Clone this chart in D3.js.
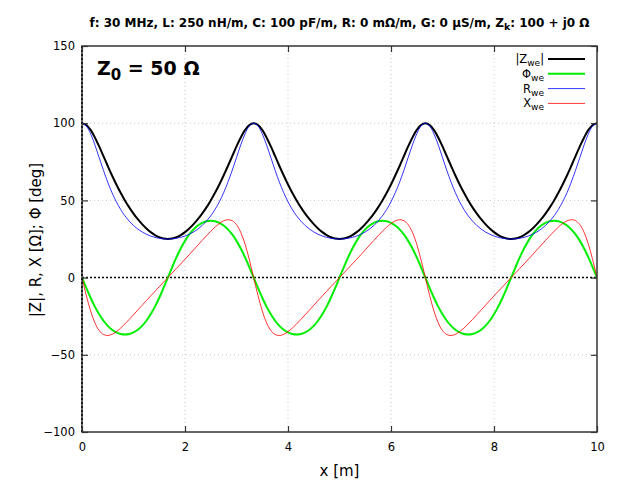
<!DOCTYPE html>
<html>
<head>
<meta charset="utf-8">
<script src="https://cdn.jsdelivr.net/npm/d3@7"></script>
<style>
  body { margin: 0; background: #fff; }
  text { font-family: "DejaVu Sans", sans-serif; fill: #000; }
</style>
</head>
<body>
<svg id="chart" width="640" height="480"></svg>
<script>
// sample positions along the line [m]
const xPos = [
  0, 0.083, 0.167, 0.25, 0.333, 0.417, 0.5, 0.583, 0.667, 0.75, 0.833, 0.917,
  1, 1.083, 1.167, 1.25, 1.333, 1.417, 1.5, 1.583, 1.667, 1.75, 1.833, 1.917,
  2, 2.083, 2.167, 2.25, 2.333, 2.417, 2.5, 2.583, 2.667, 2.75, 2.833, 2.917,
  3, 3.083, 3.167, 3.25, 3.333, 3.417, 3.5, 3.583, 3.667, 3.75, 3.833, 3.917,
  4, 4.083, 4.167, 4.25, 4.333, 4.417, 4.5, 4.583, 4.667, 4.75, 4.833, 4.917,
  5, 5.083, 5.167, 5.25, 5.333, 5.417, 5.5, 5.583, 5.667, 5.75, 5.833, 5.917,
  6, 6.083, 6.167, 6.25, 6.333, 6.417, 6.5, 6.583, 6.667, 6.75, 6.833, 6.917,
  7, 7.083, 7.167, 7.25, 7.333, 7.417, 7.5, 7.583, 7.667, 7.75, 7.833, 7.917,
  8, 8.083, 8.167, 8.25, 8.333, 8.417, 8.5, 8.583, 8.667, 8.75, 8.833, 8.917,
  9, 9.083, 9.167, 9.25, 9.333, 9.417, 9.5, 9.583, 9.667, 9.75, 9.833, 9.917,
  10
]

// |Z_we| [ohm]
const zMag = [
  100, 98.86, 95.63, 90.79, 84.95, 78.64, 72.28, 66.12, 60.32, 54.94, 50, 45.51, 41.45, 37.81, 34.59, 31.79, 29.43, 27.54, 26.14, 25.29,
  25, 25.29, 26.14, 27.54, 29.43, 31.79, 34.59, 37.81, 41.45, 45.51, 50, 54.94, 60.32, 66.12, 72.28, 78.64, 84.95, 90.79, 95.63, 98.86,
  100, 98.86, 95.63, 90.79, 84.95, 78.64, 72.28, 66.12, 60.32, 54.94, 50, 45.51, 41.45, 37.81, 34.59, 31.79, 29.43, 27.54, 26.14, 25.29,
  25, 25.29, 26.14, 27.54, 29.43, 31.79, 34.59, 37.81, 41.45, 45.51, 50, 54.94, 60.32, 66.12, 72.28, 78.64, 84.95, 90.79, 95.63, 98.86,
  100, 98.86, 95.63, 90.79, 84.95, 78.64, 72.28, 66.12, 60.32, 54.94, 50, 45.51, 41.45, 37.81, 34.59, 31.79, 29.43, 27.54, 26.14, 25.29,
  25, 25.29, 26.14, 27.54, 29.43, 31.79, 34.59, 37.81, 41.45, 45.51, 50, 54.94, 60.32, 66.12, 72.28, 78.64, 84.95, 90.79, 95.63, 98.86,
  100
]

// phase [deg]
const phase = [
  0, -6.69, -13.05, -18.8, -23.79, -27.94, -31.25, -33.75, -35.5, -36.53, -36.87, -36.53, -35.5, -33.75, -31.25, -27.94, -23.79, -18.8, -13.05, -6.69,
  0, 6.69, 13.05, 18.8, 23.79, 27.94, 31.25, 33.75, 35.5, 36.53, 36.87, 36.53, 35.5, 33.75, 31.25, 27.94, 23.79, 18.8, 13.05, 6.69,
  0, -6.69, -13.05, -18.8, -23.79, -27.94, -31.25, -33.75, -35.5, -36.53, -36.87, -36.53, -35.5, -33.75, -31.25, -27.94, -23.79, -18.8, -13.05, -6.69,
  0, 6.69, 13.05, 18.8, 23.79, 27.94, 31.25, 33.75, 35.5, 36.53, 36.87, 36.53, 35.5, 33.75, 31.25, 27.94, 23.79, 18.8, 13.05, 6.69,
  0, -6.69, -13.05, -18.8, -23.79, -27.94, -31.25, -33.75, -35.5, -36.53, -36.87, -36.53, -35.5, -33.75, -31.25, -27.94, -23.79, -18.8, -13.05, -6.69,
  0, 6.69, 13.05, 18.8, 23.79, 27.94, 31.25, 33.75, 35.5, 36.53, 36.87, 36.53, 35.5, 33.75, 31.25, 27.94, 23.79, 18.8, 13.05, 6.69,
  0
]

// R_we [ohm]
const resist = [
  100, 98.19, 93.16, 85.95, 77.73, 69.48, 61.79, 54.97, 49.1, 44.14, 40, 36.57, 33.74, 31.44, 29.57, 28.08, 26.93, 26.07, 25.47, 25.12,
  25, 25.12, 25.47, 26.07, 26.93, 28.08, 29.57, 31.44, 33.74, 36.57, 40, 44.14, 49.1, 54.97, 61.79, 69.48, 77.73, 85.95, 93.16, 98.19,
  100, 98.19, 93.16, 85.95, 77.73, 69.48, 61.79, 54.97, 49.1, 44.14, 40, 36.57, 33.74, 31.44, 29.57, 28.08, 26.93, 26.07, 25.47, 25.12,
  25, 25.12, 25.47, 26.07, 26.93, 28.08, 29.57, 31.44, 33.74, 36.57, 40, 44.14, 49.1, 54.97, 61.79, 69.48, 77.73, 85.95, 93.16, 98.19,
  100, 98.19, 93.16, 85.95, 77.73, 69.48, 61.79, 54.97, 49.1, 44.14, 40, 36.57, 33.74, 31.44, 29.57, 28.08, 26.93, 26.07, 25.47, 25.12,
  25, 25.12, 25.47, 26.07, 26.93, 28.08, 29.57, 31.44, 33.74, 36.57, 40, 44.14, 49.1, 54.97, 61.79, 69.48, 77.73, 85.95, 93.16, 98.19,
  100
]

// X_we [ohm]
const react = [
  0, -11.52, -21.59, -29.26, -34.27, -36.85, -37.49, -36.74, -35.03, -32.7, -30, -27.09, -24.07, -21.01, -17.94, -14.89, -11.87, -8.88, -5.9, -2.95,
  0, 2.95, 5.9, 8.88, 11.87, 14.89, 17.94, 21.01, 24.07, 27.09, 30, 32.7, 35.03, 36.74, 37.49, 36.85, 34.27, 29.26, 21.59, 11.52,
  0, -11.52, -21.59, -29.26, -34.27, -36.85, -37.49, -36.74, -35.03, -32.7, -30, -27.09, -24.07, -21.01, -17.94, -14.89, -11.87, -8.88, -5.9, -2.95,
  0, 2.95, 5.9, 8.88, 11.87, 14.89, 17.94, 21.01, 24.07, 27.09, 30, 32.7, 35.03, 36.74, 37.49, 36.85, 34.27, 29.26, 21.59, 11.52,
  0, -11.52, -21.59, -29.26, -34.27, -36.85, -37.49, -36.74, -35.03, -32.7, -30, -27.09, -24.07, -21.01, -17.94, -14.89, -11.87, -8.88, -5.9, -2.95,
  0, 2.95, 5.9, 8.88, 11.87, 14.89, 17.94, 21.01, 24.07, 27.09, 30, 32.7, 35.03, 36.74, 37.49, 36.85, 34.27, 29.26, 21.59, 11.52,
  0
]

const xTicks = [0, 2, 4, 6, 8, 10]
const yTicks = [-100, -50, 0, 50, 100, 150]

const seriesNames = ['Z', 'Φ', 'R', 'X']

const svg = d3.select('#chart')
const m = {l: 82, r: 43, t: 46, b: 48}
const w = 640 - m.l - m.r
const h = 480 - m.t - m.b

const x = d3.scaleLinear().domain([0, 10]).range([0, w])
const y = d3.scaleLinear().domain([-100, 150]).range([h, 0])

const g = svg.append('g').attr('transform', `translate(${m.l},${m.t})`)

svg.append('defs').append('clipPath').attr('id', 'clip')
  .append('rect').attr('width', w).attr('height', h)

// grid
g.selectAll('.gx').data(xTicks.filter(d => d > 0 && d < 10)).enter()
  .append('line')
  .attr('x1', d => x(d)).attr('x2', d => x(d))
  .attr('y1', 0).attr('y2', h)
  .attr('stroke', '#c8c8c8').attr('stroke-dasharray', '1,3')

g.selectAll('.gy').data(yTicks.filter(d => d > -100 && d < 150 && d != 0)).enter()
  .append('line')
  .attr('x1', 0).attr('x2', w)
  .attr('y1', d => y(d)).attr('y2', d => y(d))
  .attr('stroke', '#c8c8c8').attr('stroke-dasharray', '1,3')

// zero axis
g.append('line')
  .attr('x1', 0).attr('x2', w).attr('y1', y(0)).attr('y2', y(0))
  .attr('stroke', '#000').attr('stroke-width', 1.5).attr('stroke-dasharray', '2,2')

// series
const series = [
  {vals: zMag, color: '#000000', width: 2},
  {vals: phase, color: '#00ee00', width: 2},
  {vals: resist, color: '#0000ff', width: 0.8},
  {vals: react, color: '#ff0000', width: 0.8}
]

const line = d3.line()
  .x(d => x(d[0]))
  .y(d => y(d[1]))
  .curve(d3.curveCatmullRom)

const plot = g.append('g').attr('clip-path', 'url(#clip)')
series.forEach(s => {
  plot.append('path')
    .datum(xPos.map((v, i) => [v, s.vals[i]]))
    .attr('d', line)
    .attr('fill', 'none')
    .attr('stroke', s.color)
    .attr('stroke-width', s.width)
})

// border + ticks
const border = '#333'
g.append('rect').attr('width', w).attr('height', h)
  .attr('fill', 'none').attr('stroke', border).attr('stroke-width', 1.5)

g.append('line')
  .attr('x1', 0).attr('x2', 0).attr('y1', 0).attr('y2', h)
  .attr('stroke', '#000').attr('stroke-width', 1.5).attr('stroke-dasharray', '2,2')

const axB = g.append('g').attr('transform', `translate(0,${h})`)
  .call(d3.axisBottom(x).tickValues(xTicks).tickSize(-6).tickPadding(11))
const axL = g.append('g')
  .call(d3.axisLeft(y).tickValues(yTicks).tickSize(-6).tickPadding(7))
const axT = g.append('g')
  .call(d3.axisTop(x).tickValues(xTicks).tickSize(-6).tickFormat(''))
const axR = g.append('g').attr('transform', `translate(${w},0)`)
  .call(d3.axisRight(y).tickValues(yTicks).tickSize(-6).tickFormat(''))

;[axB, axL, axT, axR].forEach(a => {
  a.select('.domain').remove()
  a.selectAll('line').attr('stroke', border).attr('stroke-width', 1.2)
  a.selectAll('text').style('font-family', '"DejaVu Sans", sans-serif')
    .style('font-size', '11.5px').attr('fill', '#000')
})

// labels
svg.append('text')
  .attr('x', m.l + w / 2).attr('y', 476)
  .attr('text-anchor', 'middle').style('font-size', '15px')
  .text('x [m]')

svg.append('text')
  .attr('transform', 'translate(41,240) rotate(-90)')
  .attr('text-anchor', 'middle').style('font-size', '15px')
  .text('|Z|, R, X [Ω]; Φ [deg]')

const title = svg.append('text')
  .attr('x', m.l + w / 2).attr('y', 27)
  .attr('text-anchor', 'middle')
  .style('font-size', '12px').style('font-weight', 'bold')
title.append('tspan').text('f: 30 MHz, L: 250 nH/m, C: 100 pF/m, R: 0 mΩ/m, G: 0 µS/m, Z')
title.append('tspan').attr('dy', 3).style('font-size', '9.5px').text('k')
title.append('tspan').attr('dy', -3).text(': 100 + j0 Ω')

const z0 = svg.append('text')
  .attr('x', 97).attr('y', 75)
  .style('font-size', '19px').style('font-weight', 'bold')
z0.append('tspan').text('Z')
z0.append('tspan').attr('dy', 5).style('font-size', '15px').text('0')
z0.append('tspan').attr('dy', -5).text(' = 50 Ω')

// legend
const legend = svg.append('g')
series.forEach((s, i) => {
  const ly = 59 + i * 14.8
  legend.append('line')
    .attr('x1', 548).attr('x2', 585)
    .attr('y1', ly).attr('y2', ly)
    .attr('stroke', s.color).attr('stroke-width', s.width)
  const t = legend.append('text')
    .attr('x', 544).attr('y', ly + 4)
    .attr('text-anchor', 'end')
    .style('font-size', '11.5px')
  if (i == 0) t.append('tspan').text('|')
  t.append('tspan').text(seriesNames[i])
  t.append('tspan').attr('dy', 3).style('font-size', '9px').text('we')
  if (i == 0) t.append('tspan').attr('dy', -3).text('|')
})
</script>
</body>
</html>
